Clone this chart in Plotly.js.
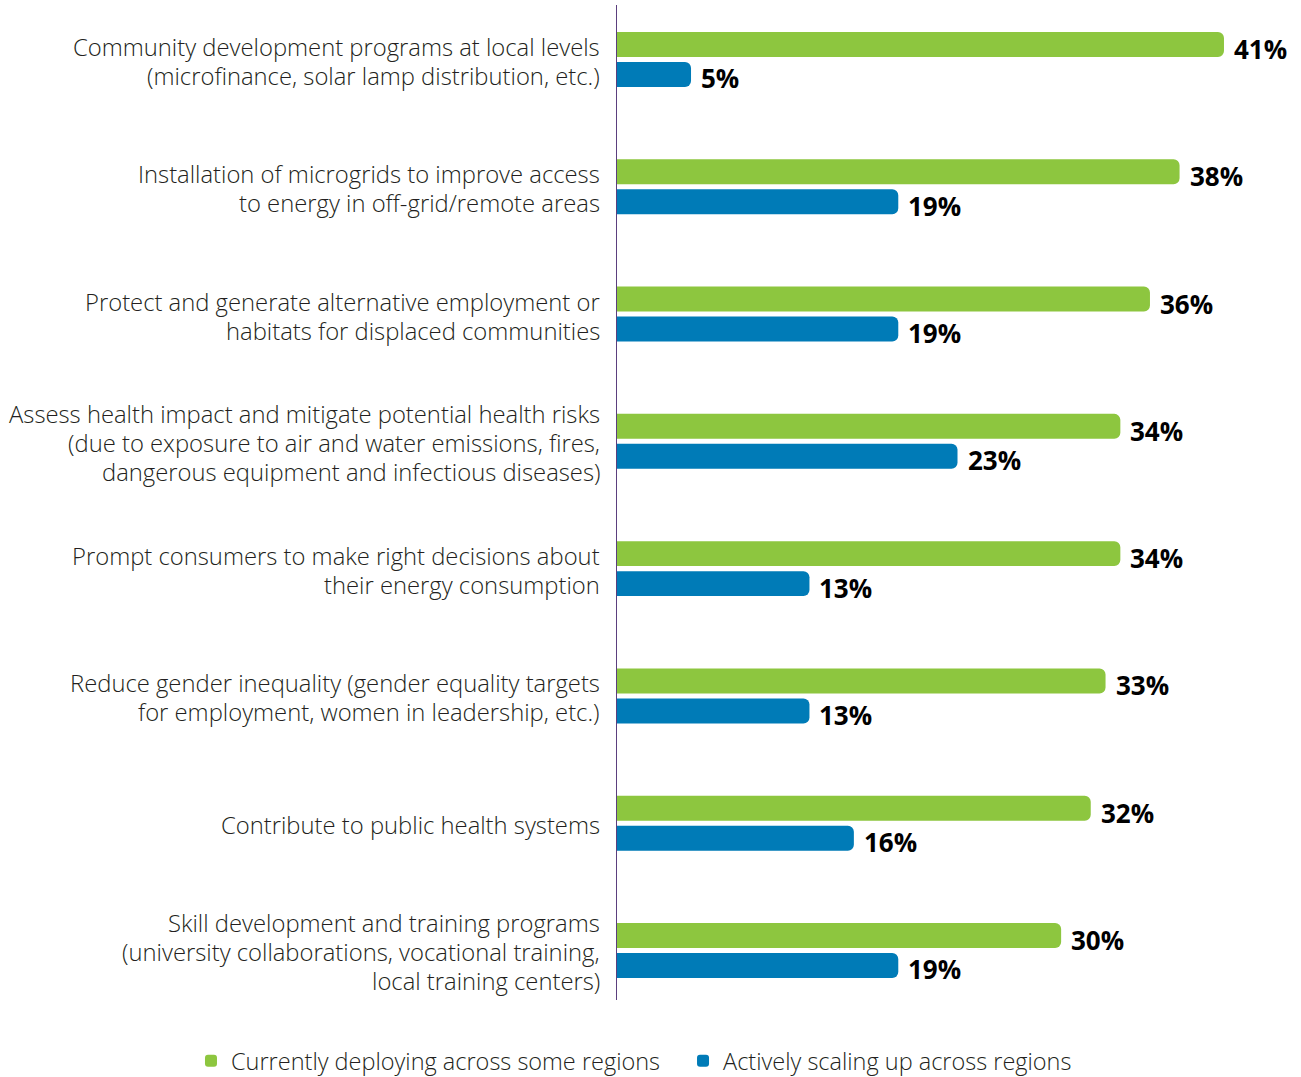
<!DOCTYPE html>
<html>
<head>
<meta charset="utf-8">
<script src="https://cdn.plot.ly/plotly-3.0.1.min.js"></script>
<style>html,body{margin:0;padding:0;background:#fff;}#chart{width:1301px;height:1077px;}</style>
</head>
<body>
<div id="chart"></div>
<script>
const categories = [
  ["Community development programs at local levels", "(microfinance, solar lamp distribution, etc.)"],
  ["Installation of microgrids to improve access", "to energy in off-grid/remote areas"],
  ["Protect and generate alternative employment or", "habitats for displaced communities"],
  ["Assess health impact and mitigate potential health risks", "(due to exposure to air and water emissions, fires,", "dangerous equipment and infectious diseases)"],
  ["Prompt consumers to make right decisions about", "their energy consumption"],
  ["Reduce gender inequality (gender equality targets", "for employment, women in leadership, etc.)"],
  ["Contribute to public health systems"],
  ["Skill development and training programs", "(university collaborations, vocational training,", "local training centers)"]
];
const seriesNames = ["Currently deploying across some regions", "Actively scaling up across regions"];
const deploying = [41, 38, 36, 34, 34, 33, 32, 30];
const scaling = [5, 19, 19, 23, 13, 13, 16, 19];

const GREEN = "#8dc63f", BLUE = "#007bb7";
const FONT = "Open Sans, Liberation Sans, sans-serif";
const idx = categories.map((c, i) => i);

const traces = [
  {type: "bar", orientation: "h", name: seriesNames[0], x: deploying, y: idx,
   marker: {color: GREEN, cornerradius: 6}, hoverinfo: "skip", legend: "legend"},
  {type: "bar", orientation: "h", name: seriesNames[1], x: scaling, y: idx,
   marker: {color: BLUE, cornerradius: 6}, hoverinfo: "skip", legend: "legend2"}
];

const annotations = [];
categories.forEach((lines, i) => {
  const n = lines.length;
  lines.forEach((ln, j) => {
    annotations.push({
      x: 0, xref: "x", y: i, yref: "y", text: ln, showarrow: false,
      xanchor: "right", yanchor: "middle", xshift: -15,
      yshift: -((j - (n - 1) / 2) * 29 + 2),
      font: {family: FONT, size: 23.8, color: "#231f20", weight: 300}
    });
  });
});
[deploying, scaling].forEach((vals, s) => {
  vals.forEach((v, i) => {
    annotations.push({
      x: v, xref: "x", y: i, yref: "y", text: v + "%", showarrow: false,
      xanchor: "left", yanchor: "middle", xshift: 8, yshift: s === 0 ? 10.5 : -19,
      font: {family: FONT, size: 26, color: "#000", weight: 700}
    });
  });
});

const legendBase = {
  orientation: "h", xref: "container", yref: "container",
  xanchor: "left", y: 0.0149, yanchor: "middle",
  font: {family: FONT, size: 23.5, color: "#231f20", weight: 300},
  itemwidth: 30, bgcolor: "rgba(0,0,0,0)"
};

const layout = {
  width: 1301, height: 1077,
  margin: {l: 617, r: 3, t: 5, b: 77},
  paper_bgcolor: "#fff", plot_bgcolor: "#fff",
  barmode: "group", bargap: 0.529, bargroupgap: 0.167,
  xaxis: {range: [0, 46], visible: false, fixedrange: true},
  yaxis: {range: [7.389, -0.428], showticklabels: false, ticks: "",
          showgrid: false, zeroline: false, showline: true,
          linecolor: "#5b3f7e", linewidth: 1.5, fixedrange: true},
  showlegend: true,
  legend: Object.assign({}, legendBase, {x: 0.1468}),
  legend2: Object.assign({}, legendBase, {x: 0.525}),
  annotations: annotations,
  font: {family: FONT}
};

Plotly.newPlot("chart", traces, layout, {displayModeBar: false, staticPlot: true});
</script>
</body>
</html>
